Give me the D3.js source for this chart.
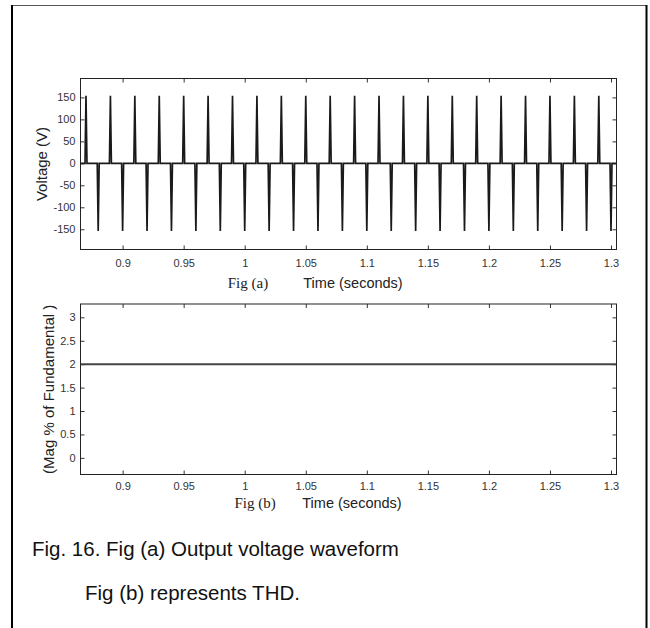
<!DOCTYPE html>
<html>
<head>
<meta charset="utf-8">
<script src="https://cdn.jsdelivr.net/npm/d3@7"></script>
<style>
  html, body { margin: 0; padding: 0; background: #fff; }
  svg { display: block; }
</style>
</head>
<body>
<svg id="chart" width="650" height="628"></svg>
<script>
// ---------------- DATA ----------------
const timeDomain = [0.8655, 1.3045];
const timeTicks = [0.9, 0.95, 1, 1.05, 1.1, 1.15, 1.2, 1.25, 1.3];
const timeTickLabels = ["0.9", "0.95", "1", "1.05", "1.1", "1.15", "1.2", "1.25", "1.3"];

const voltageDomain = [-196, 193];
const voltageTicks = [-150, -100, -50, 0, 50, 100, 150];

// spike instants (s) and peak values (V) of the output voltage
const posSpikeTimes = [0.870, 0.890, 0.910, 0.930, 0.950, 0.970, 0.990, 1.010, 1.030, 1.050, 1.070,
                       1.090, 1.110, 1.130, 1.150, 1.170, 1.190, 1.210, 1.230, 1.250, 1.270, 1.290];
const negSpikeTimes = [0.880, 0.900, 0.920, 0.940, 0.960, 0.980, 1.000, 1.020, 1.040, 1.060, 1.080,
                       1.100, 1.120, 1.140, 1.160, 1.180, 1.200, 1.220, 1.240, 1.260, 1.280, 1.300];
const posPeak = 154;
const negPeak = -154;
const spikeHalfWidth = 0.0008;

const thdDomain = [-0.355, 3.285];
const thdTicks = [0, 0.5, 1, 1.5, 2, 2.5, 3];
const thdTickLabels = ["0", "0.5", "1", "1.5", "2", "2.5", "3"];
const thdTime = [0.8655, 1.3045];
const thdValue = [2, 2];

const captionLines = ["Fig. 16. Fig (a) Output voltage waveform", "Fig (b) represents THD."];

// ---------------- DRAW ----------------
const svg = d3.select("#chart");
const FONT = "'Liberation Sans', Arial, sans-serif";

// outer frame
svg.append("line").attr("x1", 12).attr("x2", 647).attr("y1", 5.5).attr("y2", 5.5)
  .attr("stroke", "#555").attr("stroke-width", 1.2);
svg.append("line").attr("x1", 12).attr("x2", 12).attr("y1", 5).attr("y2", 628)
  .attr("stroke", "#000").attr("stroke-width", 2);
svg.append("line").attr("x1", 646.5).attr("x2", 646.5).attr("y1", 5).attr("y2", 628)
  .attr("stroke", "#000").attr("stroke-width", 2);

function panel(cfg) {
  const {left, right, top, bottom, yDomain, yTicks, yFormat, xPad, yLabel, yLabelX, figLabel, figX, timeX, subY} = cfg;
  const x = d3.scaleLinear().domain(timeDomain).range([left, right]);
  const y = d3.scaleLinear().domain(yDomain).range([bottom, top]);
  const g = svg.append("g");

  const clipId = "clip" + Math.round(top);
  svg.append("clipPath").attr("id", clipId).append("rect")
    .attr("x", left).attr("y", top).attr("width", right - left).attr("height", bottom - top);

  // axes with inward ticks
  const xb = d3.axisBottom(x).tickValues(timeTicks).tickFormat((d, i) => timeTickLabels[i])
    .tickSizeInner(-4).tickSizeOuter(0).tickPadding(xPad);
  const xt = d3.axisTop(x).tickValues(timeTicks).tickFormat("").tickSizeInner(-4).tickSizeOuter(0);
  const yl = d3.axisLeft(y).tickValues(yTicks).tickFormat(yFormat)
    .tickSizeInner(-4).tickSizeOuter(0).tickPadding(5);
  const yr = d3.axisRight(y).tickValues(yTicks).tickFormat("").tickSizeInner(-4).tickSizeOuter(0);

  const ax = [
    g.append("g").attr("transform", `translate(0,${bottom})`).call(xb),
    g.append("g").attr("transform", `translate(0,${top})`).call(xt),
    g.append("g").attr("transform", `translate(${left},0)`).call(yl),
    g.append("g").attr("transform", `translate(${right},0)`).call(yr)
  ];
  ax.forEach(a => {
    a.select(".domain").remove();
    a.selectAll(".tick line").attr("stroke", "#333").attr("stroke-width", 1);
    a.selectAll(".tick text").attr("font-family", FONT).attr("font-size", 11).attr("fill", "#333");
  });
  g.append("rect").attr("x", left).attr("y", top).attr("width", right - left).attr("height", bottom - top)
    .attr("fill", "none").attr("stroke", "#222").attr("stroke-width", 1);

  // y label
  g.append("text").attr("transform", `translate(${yLabelX},${(top + bottom) / 2}) rotate(-90)`)
    .attr("text-anchor", "middle").attr("dy", "0.35em")
    .attr("font-family", FONT).attr("font-size", 15).attr("fill", "#222").text(yLabel);

  // x subtitle
  g.append("text").attr("x", figX).attr("y", subY).attr("dy", "0.35em").attr("text-anchor", "middle")
    .attr("font-family", "'Liberation Serif', 'Times New Roman', serif").attr("font-size", 15)
    .attr("fill", "#222").text(figLabel);
  g.append("text").attr("x", timeX).attr("y", subY).attr("dy", "0.35em").attr("text-anchor", "middle")
    .attr("font-family", FONT).attr("font-size", 14.5).attr("fill", "#222").text("Time (seconds)");

  return {x, y, g, clipId};
}

// Panel (a)
const pa = panel({left: 80.5, right: 616.5, top: 78.5, bottom: 249.5,
  yDomain: voltageDomain, yTicks: voltageTicks, yFormat: d => d, xPad: 10,
  yLabel: "Voltage (V)", yLabelX: 41.5, figLabel: "Fig (a)", figX: 248, timeX: 353, subY: 283});

const spikes = posSpikeTimes.map(t => ({t, v: posPeak}))
  .concat(negSpikeTimes.map(t => ({t, v: negPeak})))
  .sort((a, b) => a.t - b.t);
const wave = [[timeDomain[0], 0]];
spikes.forEach(s => {
  wave.push([s.t - spikeHalfWidth, 0], [s.t, s.v], [s.t + spikeHalfWidth, 0]);
});
wave.push([timeDomain[1], 0]);

pa.g.append("path").datum(wave).attr("clip-path", `url(#${pa.clipId})`)
  .attr("fill", "none").attr("stroke", "#1a1a1a").attr("stroke-width", 1.7)
  .attr("stroke-linejoin", "miter")
  .attr("d", d3.line().x(d => pa.x(d[0])).y(d => pa.y(d[1])));

// Panel (b)
const pb = panel({left: 80.5, right: 616.5, top: 304, bottom: 474.5,
  yDomain: thdDomain, yTicks: thdTicks, yFormat: (d, i) => thdTickLabels[i], xPad: 8,
  yLabel: "(Mag  % of Fundamental )", yLabelX: 49, figLabel: "Fig (b)", figX: 255, timeX: 352, subY: 503});

pb.g.append("path").datum(thdTime.map((t, i) => [t, thdValue[i]])).attr("clip-path", `url(#${pb.clipId})`)
  .attr("fill", "none").attr("stroke", "#444").attr("stroke-width", 2)
  .attr("d", d3.line().x(d => pb.x(d[0])).y(d => pb.y(d[1])));

// caption
svg.append("text").attr("x", 32).attr("y", 556).attr("font-family", FONT).attr("font-size", 20.5)
  .attr("fill", "#111").text(captionLines[0]);
svg.append("text").attr("x", 85).attr("y", 600).attr("font-family", FONT).attr("font-size", 20.5)
  .attr("fill", "#111").text(captionLines[1]);
</script>
</body>
</html>
